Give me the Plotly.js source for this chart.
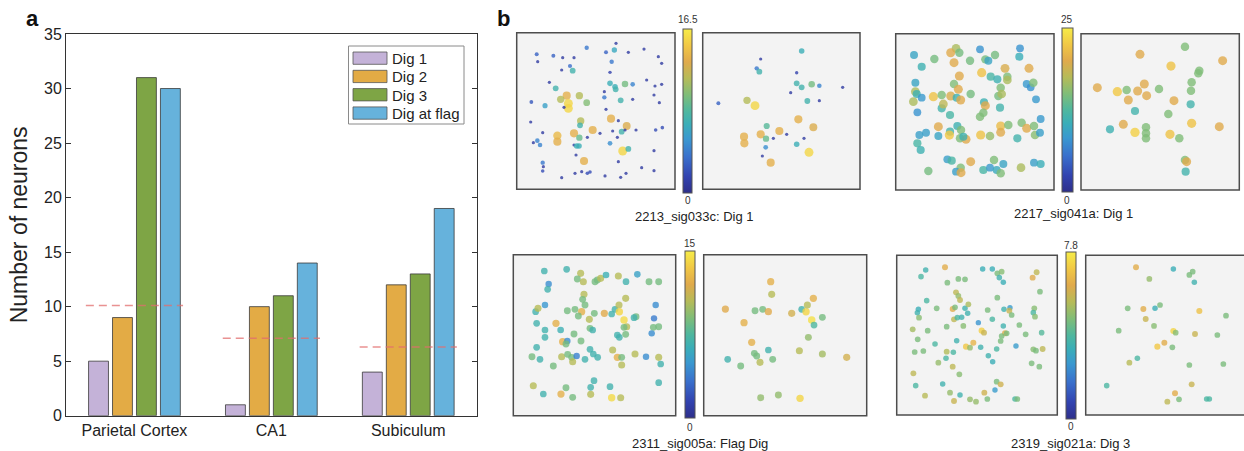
<!DOCTYPE html>
<html><head><meta charset="utf-8">
<script src="https://cdn.plot.ly/plotly-3.0.1.min.js"></script>
<style>html,body{margin:0;padding:0;background:#fff}#chart{width:1244px;height:451px}</style>
</head><body><div id="chart"></div>
<script>
// ---------- panel a data ----------
const categories = ['Parietal Cortex', 'CA1', 'Subiculum'];
const seriesNames = ['Dig 1', 'Dig 2', 'Dig 3', 'Dig at flag'];
const dig1 = [5, 1, 4];
const dig2 = [9, 10, 12];
const dig3 = [31, 11, 13];
const digFlag = [30, 14, 19];
const chanceLevel = [10.1, 7.1, 6.3];
const yTickVals = [0, 5, 10, 15, 20, 25, 30, 35];

// ---------- panel b data (positions in each arena's frame, value = firing rate) ----------
const captions = ['2213_sig033c: Dig 1', '2217_sig041a: Dig 1', '2311_sig005a: Flag Dig', '2319_sig021a: Dig 3'];
const colorMax = [16.5, 25, 15, 7.8];
const colorMaxLabels = ['16.5', '25', '15', '7.8'];

const c2213AllX = [110,113,160,188,222,260,348,343,318,385,432,475,485,335,210,218,185,330,148,167,200,238,182,205,205,192,260,94,135,330,345,347,375,398,313,313,362,398,440,465,485,462,478,318,92,128,242,240,222,238,278,172,172,262,300,333,355,338,365,380,375,352,408,467,487,112,120,100,222,230,237,330,368,385,462,228,252,128,130,128,185,225,245,262,270,315,355,362,378,425,462];
const c2213AllY = [103,125,107,113,113,83,70,90,97,97,87,110,130,125,138,152,150,157,187,205,227,227,238,250,265,262,248,246,257,190,200,208,192,193,215,232,241,238,180,198,193,225,248,268,306,338,303,316,340,353,330,347,365,352,340,296,302,333,335,318,330,352,330,330,323,362,375,368,375,378,378,370,393,387,392,405,423,428,440,453,473,460,455,460,456,468,425,472,460,443,452];
const c2213AllV = [3,1,3,1,1,4,1,6.5,3,1,1,1,1,4,3.5,7.5,1,1.5,1,7.5,13.5,11.5,11.5,15.5,15.5,1,10,2.5,6,7,7,7.5,9.5,4.5,1,4,7.5,1,1,1,1,1,1,1,1,1,11.5,7.5,13.5,9,13.5,14,13.5,1,1,13.5,1,1,7.5,13,1,1,1,2,2,4.5,4.5,1,1,7,7,5,15.5,7.5,1,1,13.5,4,1,2,1,1,1,2,2,1,1,1,1,1,1];
const c2213DigX = [905,782,770,778,890,890,905,935,958,1028,872,922,958,655,741,765,895,940,800,838,782,798,820,860,732,733,912,890,797,927,787,812];
const c2213DigY = [93,117,145,155,158,190,202,193,197,202,218,243,242,250,241,257,298,322,318,333,343,356,355,343,350,370,355,373,382,397,408,428];
const c2213DigV = [7,1,4,7.5,1.5,7.5,7.5,9.5,4.5,1,1,7.5,1,3,11.5,15.5,13.5,13,8.5,13.5,13.5,9,1,1,13.5,13.5,1,7,5,15.5,1,13.5];

const c2217AllX = [102,125,163,228,212,238,222,270,300,316,325,345,420,418,375,447,238,305,332,352,382,382,106,222,235,440,452,460,106,110,125,160,185,212,230,242,272,362,355,365,100,185,190,112,210,312,316,300,310,360,468,175,210,232,243,208,240,258,250,118,138,175,302,330,362,362,385,425,440,462,465,480,482,412,112,122,202,215,272,145,242,228,243,310,330,342,350,362,370,423,462,482];
const c2217AllY = [105,140,117,85,98,98,128,122,88,118,122,105,85,110,145,145,168,158,170,178,170,180,188,192,208,192,202,188,215,222,233,230,225,228,233,240,222,203,228,222,245,265,252,277,285,247,257,290,278,263,238,320,335,318,330,345,355,358,350,345,338,348,345,348,318,337,315,308,325,318,345,338,297,355,370,390,418,422,425,453,443,455,458,450,443,420,450,460,432,443,428,432];
const c2217AllV = [9.5,11,14.5,17,20,14.5,20,14.5,8,14.5,9.5,14.5,8,10.5,19.5,20,20,22,12,11,15,17,9.5,15,20,8.5,8,15,17,11,8.5,22,15,19.5,11,20,14.5,15,14.5,17,17,11.5,18,8,12,11,20,15,15,11.5,8.5,20,11.5,11,15,22.5,15,20,11,9,9,9.5,22,16,21.5,20,15,15,20,15,15.5,9,8.5,11.5,12,11,9,12,20,14.5,15,9,20,12,8.5,15,10,15,9.5,17,9,10.5];
const c2217DigX = [780,915,1028,873,958,955,935,933,652,712,740,773,793,800,745,837,882,932,765,865,690,730,765,798,798,798,870,898,935,1018,915,920,917];
const c2217DigY = [103,80,122,138,152,160,187,212,203,215,210,213,192,227,240,207,242,253,273,282,328,313,337,322,340,355,343,355,310,320,420,425,455];
const c2217DigV = [20,15,20,22,15,15,15,15,20,22.5,15,20,20,20,20,15,20,11.5,11.5,15,11,20,23,15,15,15,22,15,22,20,15,20,11.5];

const c2311AllX = [133,200,242,232,250,285,292,302,318,355,378,412,447,476,146,143,252,248,377,107,114,135,202,225,245,235,255,283,313,345,357,358,335,372,408,402,467,462,110,168,268,135,182,222,270,278,135,188,202,243,198,352,358,377,380,372,460,476,455,110,96,120,160,185,203,215,218,230,255,270,280,293,338,352,365,365,405,438,476,482,100,130,183,198,218,272,282,272,330,335,362,476];
const c2311AllY = [93,88,100,117,125,125,120,115,105,108,125,103,125,125,132,148,163,178,175,215,205,195,212,208,215,228,195,220,220,208,195,215,222,240,230,233,195,235,250,250,238,270,270,282,265,270,292,305,303,303,312,285,292,283,260,262,262,260,280,322,350,358,378,350,343,352,365,348,358,328,342,352,330,352,375,352,342,350,352,372,437,462,462,443,472,463,422,442,440,473,473,428];
const c2311AllV = [6.8,6.8,10.5,8.7,10.5,8.7,8.7,10.5,6.5,10.5,6.8,5.5,8.7,8.7,4.5,6.8,10.5,8.7,10.5,6.8,10.5,5,8.7,8.7,12.3,8.7,8.7,8.7,12,6.8,10.5,14,6.8,14.2,8.7,6.8,4.5,3.8,6.8,12.3,10.5,6.8,6.5,8.7,8.7,6.8,6.8,12.3,4.5,8.7,8.7,6.8,6.8,8.7,10.5,8.7,8.7,8.7,4.5,6.8,8.7,6.8,8.7,10.5,8.7,8.7,10.5,4,6.8,6.8,6.8,6.8,10.5,12.3,10.5,8.7,10.5,4.5,10.5,6.8,10.5,6.8,12.3,8.7,8.7,10.5,6.8,6.8,6.8,14.2,10.5,6.8];
const c2311DigX = [812,815,940,676,765,788,805,875,905,918,922,935,942,967,732,755,925,805,763,770,780,818,898,683,722,967,1040,782,835,900];
const c2311DigY = [125,163,175,207,212,208,215,220,208,215,195,240,255,232,248,307,292,330,340,348,367,358,332,358,378,342,352,473,465,475];
const c2311DigV = [12.3,10.5,12.3,12,8.7,8.7,12,11.5,6.8,14,10.5,14.5,7.5,8.7,12.3,12.3,9.5,6.8,8.7,8.7,10.5,8.7,10.5,6.8,8.7,10,11.5,9.5,9.5,14];

const c2319AllX = [137,123,195,308,337,352,365,358,370,470,458,480,202,235,255,228,235,240,140,352,115,112,117,170,218,225,255,265,263,222,232,245,295,323,337,372,390,388,395,463,460,465,98,143,200,250,305,312,370,375,365,380,418,437,485,113,165,230,280,258,270,302,350,362,408,460,468,488,104,130,200,220,198,175,218,325,338,455,478,100,238,107,188,350,362,345,135,210,222,240,270,288,313,322,405,412];
const c2319AllY = [90,110,82,87,87,100,95,113,127,97,113,155,128,117,118,157,168,180,182,173,208,218,233,205,207,202,205,193,220,238,233,232,248,210,238,208,203,212,225,205,218,230,268,272,260,258,272,278,258,280,288,280,255,283,278,298,312,302,308,320,323,322,327,303,318,328,332,327,336,333,335,337,355,368,380,347,365,370,380,400,403,437,432,425,433,450,467,458,483,465,478,485,458,477,477,477];
const c2319AllV = [3.5,3.8,6.3,3.3,3.3,4.6,4.8,3.5,3.3,5.6,6.2,4.6,4.6,4.6,4.6,5.6,5,5.6,3.8,4.6,3.3,3.5,4.8,4.6,6.3,4.6,3.5,5.3,3.5,5.6,3.8,3.5,2.5,4.6,3.8,3.5,2.7,5.8,4.6,4.8,3.8,4.8,5.2,4.6,4.6,4.8,7.2,5.8,3.5,6.3,4.6,4.6,4.6,4.6,4,4.6,3.8,3.5,6.5,7,5,3.5,3.8,4.6,2.7,4.8,4.6,5.6,4.6,4.6,5.4,3.8,3.8,5,5.6,3.5,3.3,4.6,4.6,5.6,4.8,3.8,3.5,4.6,5.9,2.7,5.5,5,5.8,3.5,5,5,5.9,4.6,3.8,4.6];
const c2319DigX = [768,880,938,928,943,808,743,790,825,840,958,1038,797,822,716,880,887,945,1012,832,853,877,772,748,928,1030,680,935,885,862,897,980,988];
const c2319DigY = [82,87,95,105,127,117,205,207,205,195,213,227,237,258,272,273,278,282,285,320,308,322,355,368,375,372,437,433,460,485,478,477,477];
const c2319DigV = [6.3,3.3,4.6,4.6,3.5,5,4.6,6.3,3.3,4.6,6.8,4.6,5.8,4.8,4.6,7.3,4.8,5.8,4.6,7,6.3,4.6,3.8,5.5,4.6,4.6,3.8,5.8,6.3,5.6,4.6,3.8,3.8];

// ---------- styling / layout ----------
const W = 1244, H = 451;
const px = v => v / W, py = v => 1 - v / H;
const FONT = 'Liberation Sans, Arial, sans-serif';
const TXT = '#222';
const barColors = ['#c4b2d8', '#e3ab45', '#7ea545', '#66b2dc'];
const parula = [[0,'#2e2f8a'],[0.1,'#3243b0'],[0.22,'#3a70cc'],[0.33,'#3a98d0'],[0.42,'#3aaeb8'],[0.5,'#4fb79f'],[0.6,'#80bd78'],[0.7,'#b6bb58'],[0.8,'#e0aa4c'],[0.9,'#f1c845'],[1,'#f6ec48']];

const traces = [];
const barSeries = [dig1, dig2, dig3, digFlag];
barSeries.forEach((ys, i) => {
  traces.push({type:'bar', name: seriesNames[i], x: categories, y: ys,
    marker:{color: barColors[i], line:{color:'#3a3a3a', width:0.8}}, xaxis:'x', yaxis:'y'});
});

// scatter arenas: pixel boxes and the frame the positions are given in
const arenas = [
  {d:[516.7,675,32.7,189.3],  r:[50,525,508,38],   x:c2213AllX, y:c2213AllY, v:c2213AllV, p:0},
  {d:[702.7,860,32.7,189.3],  r:[608,1080,508,38], x:c2213DigX, y:c2213DigY, v:c2213DigV, p:0},
  {d:[895.7,1054,33.7,190],   r:[47,522,510,41],   x:c2217AllX, y:c2217AllY, v:c2217AllV, p:1},
  {d:[1081,1239.3,33.7,190],  r:[603,1078,510,41], x:c2217DigX, y:c2217DigY, v:c2217DigV, p:1},
  {d:[513.3,675.7,254.7,415.7], r:[40,527,527,44], x:c2311AllX, y:c2311AllY, v:c2311AllV, p:2},
  {d:[703.7,866.7,254.7,415.7], r:[611,1100,527,44], x:c2311DigX, y:c2311DigY, v:c2311DigV, p:2},
  {d:[896.7,1057.3,255.3,415], r:[50,532,525,46],  x:c2319AllX, y:c2319AllY, v:c2319AllV, p:3},
  {d:[1085.7,1244,255.3,415],  r:[617,1092,525,46], x:c2319DigX, y:c2319DigY, v:c2319DigV, p:3}
];
const sizeBase = [[2.8,6.5],[7,2.5],[6,1.5],[5,1.2]];
const cbars = [
  {x:683.3, top:29, bot:192.7, w:9.4, lt:20, lb:200, cap:[694,216]},
  {x:1062, top:28.3, bot:192.7, w:10.5, lt:20, lb:200, cap:[1073,213]},
  {x:685, top:251, bot:418.3, w:10, lt:243, lb:427, cap:[700,443]},
  {x:1066, top:252.3, bot:419, w:10, lt:245, lb:426, cap:[1070,443]}
];

const layout = {
  width: W, height: H, margin:{l:0,r:0,t:0,b:0},
  paper_bgcolor:'#fff', plot_bgcolor:'#fff', showlegend:false,
  font:{family:FONT, color:TXT},
  barmode:'group', bargap:0.3, bargroupgap:0.17,
  xaxis:{domain:[px(66), px(476.7)], type:'category', range:[-0.5,2.5], showline:true, mirror:true,
    linecolor:'#333', linewidth:1, ticks:'', tickfont:{size:16, color:TXT, family:FONT}, showgrid:false, zeroline:false},
  yaxis:{domain:[py(415.7), py(34)], range:[0,35], tickvals:yTickVals, showline:true, mirror:'ticks',
    linecolor:'#333', linewidth:1, ticks:'inside', ticklen:5, tickcolor:'#333',
    tickfont:{size:16, color:TXT, family:FONT}, showgrid:false, zeroline:false,
    title:{text:'Number of neurons', font:{size:23, color:TXT, family:FONT}, standoff:9}},
  shapes:[], annotations:[]
};

// chance-level dashed lines
chanceLevel.forEach((c, i) => {
  layout.shapes.push({type:'line', xref:'x', yref:'y', x0:i-0.355, x1:i+0.355, y0:c, y1:c,
    line:{color:'rgba(226,110,110,0.75)', width:1.5, dash:'8px,5px'}});
});

// manual legend (large swatches like the original)
layout.shapes.push({type:'rect', xref:'paper', yref:'paper', x0:px(348.5), x1:px(464), y0:py(124), y1:py(46),
  line:{color:'#8a8a8a', width:1}, fillcolor:'#fff'});
seriesNames.forEach((n, i) => {
  const top = 52 + i*18.3;
  layout.shapes.push({type:'rect', xref:'paper', yref:'paper', x0:px(353), x1:px(387), y0:py(top+12.3), y1:py(top),
    line:{color:'#555', width:0.8}, fillcolor: barColors[i]});
  layout.annotations.push({xref:'paper', yref:'paper', x:px(389.5), y:py(top+6.4), xanchor:'left', yanchor:'middle',
    text:n, showarrow:false, font:{size:15, color:TXT, family:FONT}});
});

// panel letters
layout.annotations.push({xref:'paper', yref:'paper', x:px(32), y:py(18), xanchor:'center', yanchor:'middle',
  text:'<b>a</b>', showarrow:false, font:{size:22, color:'#111', family:FONT}});
layout.annotations.push({xref:'paper', yref:'paper', x:px(503), y:py(18), xanchor:'center', yanchor:'middle',
  text:'<b>b</b>', showarrow:false, font:{size:22, color:'#111', family:FONT}});

arenas.forEach((a, k) => {
  const n = k + 2;
  const xa = 'x' + n, ya = 'y' + n;
  const ca = a.p === 0 ? 'coloraxis' : 'coloraxis' + (a.p + 1);
  const cm = colorMax[a.p];
  const sb = sizeBase[a.p];
  traces.push({type:'scatter', mode:'markers', x:a.x, y:a.y, xaxis:xa, yaxis:ya, showlegend:false,
    marker:{color:a.v, coloraxis:ca, size:a.v.map(v => sb[0] + sb[1]*v/cm), opacity:0.8, line:{width:0}}});
  layout['xaxis' + n] = {domain:[px(a.d[0]), Math.min(1, px(a.d[1]))], range:[a.r[0], a.r[1]], visible:false, anchor:ya, fixedrange:true};
  layout['yaxis' + n] = {domain:[py(a.d[3]), py(a.d[2])], range:[a.r[2], a.r[3]], visible:false, anchor:xa, fixedrange:true};
  layout.shapes.push({type:'rect', layer:'below', xref:xa + ' domain', yref:ya + ' domain',
    x0:0, x1:(k === 7 ? 1.03 : 1), y0:0, y1:1, fillcolor:'#f3f3f3', line:{color:'#4d4d4d', width:1.5}});
});

cbars.forEach((c, p) => {
  const key = p === 0 ? 'coloraxis' : 'coloraxis' + (p + 1);
  layout[key] = {cmin:0, cmax:colorMax[p], colorscale:parula,
    colorbar:{x:px(c.x), xanchor:'left', y:py(c.top), yanchor:'top', len:c.bot - c.top, lenmode:'pixels',
      thickness:c.w, thicknessmode:'pixels', xpad:0, ypad:0, outlinewidth:1, outlinecolor:'#555',
      showticklabels:false, ticks:''}};
  const cx = px(c.x + c.w/2);
  layout.annotations.push({xref:'paper', yref:'paper', x:cx, y:py(c.lt), xanchor:'center', yanchor:'middle',
    text:colorMaxLabels[p], showarrow:false, font:{size:10, color:'#333', family:FONT}});
  layout.annotations.push({xref:'paper', yref:'paper', x:cx, y:py(c.lb), xanchor:'center', yanchor:'middle',
    text:'0', showarrow:false, font:{size:10, color:'#333', family:FONT}});
  layout.annotations.push({xref:'paper', yref:'paper', x:px(c.cap[0]), y:py(c.cap[1]), xanchor:'center', yanchor:'middle',
    text:captions[p], showarrow:false, font:{size:13, color:TXT, family:FONT}});
});

Plotly.newPlot('chart', traces, layout, {staticPlot:true, displayModeBar:false});
</script></body></html>
